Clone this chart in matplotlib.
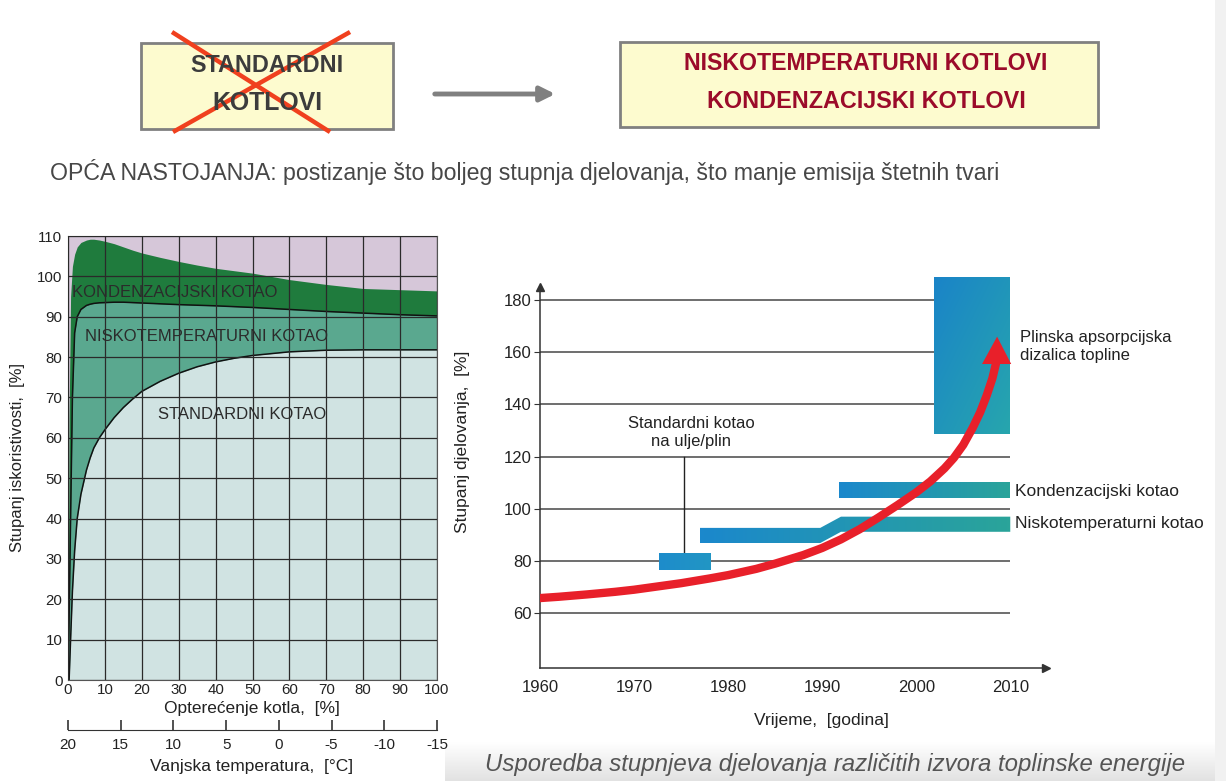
import numpy as np
import matplotlib
matplotlib.use("Agg")
import matplotlib.pyplot as plt
from matplotlib import font_manager
from matplotlib.patches import Polygon, Rectangle
from matplotlib.colors import LinearSegmentedColormap

W, H = 1226, 781

# left chart: efficiency vs boiler load
load = [0, 0.3, 0.7, 1.2, 1.8, 2.5, 3.5, 5, 6, 7, 8.5, 10, 12.5, 15, 17.5, 20, 25, 30, 35, 40,
        45, 50, 60, 70, 80, 90, 100]
eff_cond = [0, 65, 95, 102.5, 105.5, 107.3, 108.4, 109.0, 109.2, 109.2, 109.0, 108.7, 108.1, 107.3,
            106.5, 105.8, 104.7, 103.7, 102.8, 102.0, 101.4, 100.8, 99.2, 98.0, 97.0, 96.7, 96.4]
eff_lt = [0, 15, 40, 70, 86, 90, 91.8, 92.8, 93.1, 93.3, 93.45, 93.5, 93.6, 93.6, 93.5, 93.4,
          93.2, 93.0, 92.85, 92.7, 92.5, 92.3, 91.8, 91.3, 90.9, 90.5, 90.2]
eff_std = [0, 0, 10, 22, 32, 40, 46, 52, 55, 57.5, 60, 62, 65, 67.5, 69.6, 71.5, 74, 76, 77.6,
           78.8, 79.7, 80.4, 81.3, 81.7, 81.8, 81.8, 81.8]
temp_ticks = [20, 15, 10, 5, 0, -5, -10, -15]

# right chart: efficiency over time
year_ticks = [1960, 1970, 1980, 1990, 2000, 2010]
eff_grid = [60, 80, 100, 120, 140, 160, 180]
std_box_years = [1972.7, 1978.2]
std_box_eff = [76.5, 83.0]
lt_bar_years = [1977, 1989.8, 1992, 2010]
lt_bar_eff = [89.8, 89.8, 94.1, 94.1]
lt_bar_half = 2.9
cond_bar_years = [1991.8, 2010]
cond_bar_eff = [104.2, 110.3]
hp_years = [2001.9, 2010]
hp_eff = [128.6, 188.8]
trend_years = [1960, 1962, 1965, 1968, 1970, 1972, 1975, 1978, 1980, 1983, 1985, 1988, 1990, 1992,
               1994, 1996, 1998, 2000, 2001.5, 2003, 2004, 2005, 2006, 2006.8, 2007.5, 2008.1, 2008.5]
trend_eff = [65.8, 66.3, 67.2, 68.2, 69, 70, 71.5, 73.3, 74.6, 77, 79, 82.3, 85, 88.3,
             92.2, 96.7, 101.4, 106.3, 110.5, 115.5, 119.5, 124.5, 131, 137, 143.5, 150, 156]
head_years = [2007.0, 2008.6, 2010.1]
head_eff = [155.5, 166, 155.5]

names = {f.name for f in font_manager.fontManager.ttflist}
NARROW = 'Liberation Sans Narrow' if 'Liberation Sans Narrow' in names else 'Liberation Sans'
plt.rcParams['font.family'] = ['Liberation Sans', 'DejaVu Sans']
plt.rcParams['axes.unicode_minus'] = False


def fx(x):
    return x / W


def fy(y):
    return 1 - y / H


fig = plt.figure(figsize=(W / 100, H / 100), dpi=100)

# overlay in pixel coordinates for the slide decoration
ov = fig.add_axes([0, 0, 1, 1])
ov.set_xlim(0, W)
ov.set_ylim(H, 0)
ov.axis('off')

band = np.linspace(0, 1, 50)[:, None]
ov.imshow(band, extent=[445, W, H, 742], cmap=LinearSegmentedColormap.from_list('g', ['white', '#e2e2e2']),
          aspect='auto', zorder=0)
ov.add_patch(Rectangle((1215, 0), 11, H, fc='#f1f1f1', ec='none', zorder=0))

ov.add_patch(Rectangle((141, 43), 252, 86, fc='#fdfbcf', ec='#808080', lw=2))
ov.add_patch(Rectangle((620, 42), 478, 85, fc='#fdfbcf', ec='#808080', lw=2))
top_txt = []
top_txt.append((ov.text(267, 66, 'STANDARDNI', family=NARROW, weight='bold', color='#3c3c3c',
                        ha='center', va='center', fontsize=18), 152))
top_txt.append((ov.text(267, 103, 'KOTLOVI', family=NARROW, weight='bold', color='#3c3c3c',
                        ha='center', va='center', fontsize=18), 110))
top_txt.append((ov.text(866, 64, 'NISKOTEMPERATURNI KOTLOVI', family=NARROW, weight='bold', color='#9b0b2a',
                        ha='center', va='center', fontsize=18), 364))
top_txt.append((ov.text(866, 101, 'KONDENZACIJSKI KOTLOVI', family=NARROW, weight='bold', color='#9b0b2a',
                        ha='center', va='center', fontsize=18), 318))
ov.plot([172, 330], [32, 132], color='#f0401e', lw=3.2, solid_capstyle='butt')
ov.plot([350, 173], [32, 132], color='#f0401e', lw=3.2, solid_capstyle='butt')
ov.annotate('', xy=(558, 94), xytext=(432, 94),
            arrowprops=dict(arrowstyle='-|>', color='#808080', lw=3.5, mutation_scale=22))

top_txt.append((ov.text(50, 172, 'OPĆA NASTOJANJA: postizanje što boljeg stupnja djelovanja, što manje emisija štetnih tvari',
                        family=NARROW, color='#474747', ha='left', va='center', fontsize=15), 953))
top_txt.append((ov.text(835, 764, 'Usporedba stupnjeva djelovanja različitih izvora toplinske energije',
                        family=NARROW, style='italic', color='#555555', ha='center', va='center', fontsize=15), 700))

# ---- left chart ----
ax = fig.add_axes([fx(68), fy(680), 369 / W, 444 / H])
ax.set_facecolor('#d6c7d9')
ax.fill_between(load, 0, eff_cond, color='#1f7b3d', lw=0, zorder=1)
ax.fill_between(load, 0, eff_lt, color='#5aa88f', lw=0, zorder=1.1)
ax.fill_between(load, 0, eff_std, color='#d0e3e2', lw=0, zorder=1.2)
ax.plot(load, eff_lt, color='#111111', lw=1.1, zorder=2)
ax.plot(load, eff_std, color='#111111', lw=1.1, zorder=2)
ax.set_xlim(0, 100)
ax.set_ylim(0, 110)
ax.set_xticks(range(0, 101, 10))
ax.set_yticks(range(0, 111, 10))
ax.grid(True, color='#2a2a2a', lw=0.9, zorder=3)
ax.set_axisbelow(False)
ax.tick_params(length=0, labelsize=10.8, colors='#222222')
ax.tick_params(axis='x', pad=2)
ax.tick_params(axis='y', pad=4)
for s in ax.spines.values():
    s.set_color('#555555')
ax.text(1.1, 96.1, 'KONDENZACIJSKI KOTAO', fontsize=12, color='#2b2b2b', va='center', zorder=4)
ax.text(4.6, 85, 'NISKOTEMPERATURNI KOTAO', fontsize=12, color='#2b2b2b', va='center', zorder=4)
ax.text(24.4, 65.9, 'STANDARDNI KOTAO', fontsize=12, color='#2b2b2b', va='center', zorder=4)

fig.text(fx(252), fy(708), 'Opterećenje kotla,  [%]', ha='center', va='center', fontsize=12.5, color='#222222')
fig.text(fx(18), fy(458), 'Stupanj iskoristivosti,  [%]', ha='center', va='center', rotation=90,
         fontsize=12, color='#222222')

# outside temperature scale
at = fig.add_axes([fx(68), fy(730), 369 / W, 0.001])
at.set_xlim(20, -15)
at.set_xticks(temp_ticks)
at.set_yticks([])
for k in ('top', 'left', 'right'):
    at.spines[k].set_visible(False)
at.spines['bottom'].set_color('#333333')
at.patch.set_alpha(0)
at.tick_params(axis='x', direction='in', length=7, width=1.2, color='#333333', labelsize=11,
               labelcolor='#222222', pad=6)
fig.text(fx(252), fy(766), 'Vanjska temperatura,  [°C]', ha='center', va='center', fontsize=12.5, color='#222222')

# ---- right chart ----
bx = fig.add_axes([fx(540), fy(668), (1046 - 540) / W, (668 - 274) / H])
bx.patch.set_alpha(0)
bx.hlines(eff_grid, year_ticks[0], year_ticks[-1], color='#555555', lw=1.2, zorder=1)

blue, teal = '#1b88cc', '#2aa49a'


def grad_patch(ax, verts, c0, c1, diag=False, z=3):
    verts = np.array(verts)
    x0, x1 = verts[:, 0].min(), verts[:, 0].max()
    y0, y1 = verts[:, 1].min(), verts[:, 1].max()
    t = np.linspace(0, 1, 64)
    if diag:
        g = (t[None, :] + (1 - t[:, None])) / 2
    else:
        g = np.tile(t, (2, 1))
    cmap = LinearSegmentedColormap.from_list('b', [c0, c1])
    im = ax.imshow(g, extent=[x0, x1, y0, y1], cmap=cmap, aspect='auto', origin='lower',
                   zorder=z, interpolation='bilinear')
    poly = Polygon(verts, closed=True, fc='none', ec='none')
    ax.add_patch(poly)
    im.set_clip_path(poly)


def box(xs, ys):
    return [(xs[0], ys[0]), (xs[1], ys[0]), (xs[1], ys[1]), (xs[0], ys[1])]


top = [(x, y + lt_bar_half) for x, y in zip(lt_bar_years, lt_bar_eff)]
bot = [(x, y - lt_bar_half) for x, y in zip(lt_bar_years[::-1], lt_bar_eff[::-1])]

grad_patch(bx, box(std_box_years, std_box_eff), '#1d8ccb', '#2296c4')
grad_patch(bx, top + bot, blue, teal)
grad_patch(bx, box(cond_bar_years, cond_bar_eff), blue, teal)
grad_patch(bx, box(hp_years, hp_eff), '#1a84c8', '#27a6ad', diag=True)

conn_x = np.mean(std_box_years) - 0.1
bx.plot([conn_x, conn_x], [std_box_eff[1], 120], color='#222222', lw=1, zorder=2)

bx.plot(trend_years, trend_eff, color='#e8202a', lw=6, solid_capstyle='round', solid_joinstyle='round',
        zorder=5)
bx.fill(head_years, head_eff, color='#e8202a', lw=0, zorder=5)

bx.set_xlim(1960, 2013.8)
bx.set_ylim(39, 190)
bx.set_xticks(year_ticks)
bx.set_yticks(eff_grid)
for k in ('top', 'right'):
    bx.spines[k].set_visible(False)
bx.spines['left'].set_bounds(39, 185)
for k in ('left', 'bottom'):
    bx.spines[k].set_color('#333333')
    bx.spines[k].set_linewidth(1.1)
bx.plot([1960], [185], marker='^', color='#333333', ms=6, clip_on=False, zorder=6)
bx.plot([2013.8], [39], marker='>', color='#333333', ms=6, clip_on=False, zorder=6)
bx.tick_params(axis='x', length=0, pad=9, labelsize=12, labelcolor='#222222')
bx.tick_params(axis='y', length=4, color='#333333', pad=2, labelsize=12, labelcolor='#222222')

bx.text(1976.1, 129.3, 'Standardni kotao\nna ulje/plin', ha='center', va='center', fontsize=12,
        color='#222222', linespacing=1.25)
bx.text(2011.0, 162.4, 'Plinska apsorpcijska\ndizalica topline', ha='left', va='center', fontsize=12,
        color='#222222', linespacing=1.25)
bx.text(2010.5, 106.8, 'Kondenzacijski kotao', ha='left', va='center', fontsize=12.5, color='#222222')
bx.text(2010.5, 94.2, 'Niskotemperaturni kotao', ha='left', va='center', fontsize=12.5, color='#222222')

fig.text(fx(821), fy(720), 'Vrijeme,  [godina]', ha='center', va='center', fontsize=12.5, color='#222222')
fig.text(fx(462), fy(442), 'Stupanj djelovanja,  [%]', ha='center', va='center', rotation=90,
         fontsize=12.5, color='#222222')

# fit the slide texts to the widths they have in the original
fig.canvas.draw()
r = fig.canvas.get_renderer()
for t, target in top_txt:
    w = t.get_window_extent(r).width
    t.set_fontsize(t.get_fontsize() * target / w)

fig.savefig('out.png', dpi=100)
